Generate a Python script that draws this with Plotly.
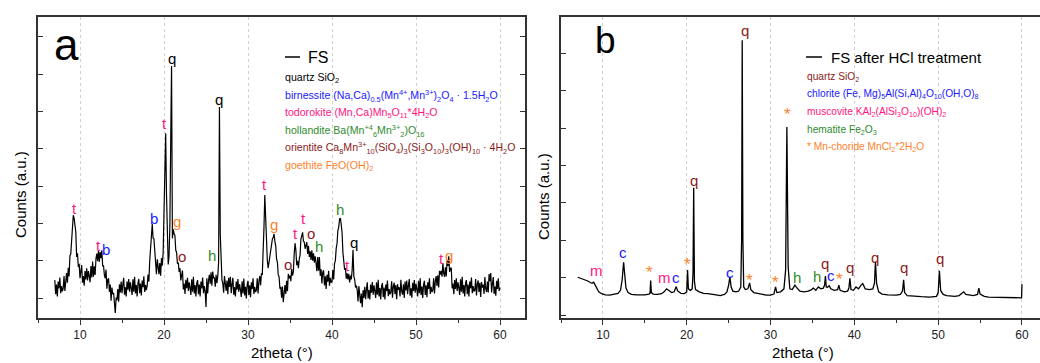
import plotly.graph_objects as go

# ---------------- data: panel a (FS), 2theta grid 7.0 .. 60.0, step 0.1 ----------------
two_theta_start_a = 7.0
two_theta_step_a = 0.1
counts_fs = [
    48, 10, 36, 4, 44, 26, 55, 13, 32, 18,            # 7
    26, 59, 19, 52, 67, 41, 81, 58, 113, 118,         # 8
    154, 165, 222, 214, 190, 177, 110, 120, 83, 92,   # 9
    53, 74, 88, 41, 59, 33, 72, 50, 80, 47,           # 10
    72, 59, 42, 86, 55, 98, 57, 85, 62, 105,          # 11
    119, 99, 127, 97, 123, 107, 128, 85, 87, 62,      # 12
    53, 76, 25, 49, 53, 16, 36, -7, 28, 10,           # 13
    14, -13, -40, 1, -6, 24, -10, 37, 15, 44,         # 14
    13, 37, 54, 9, 29, 4, 44, 22, 51, 17,             # 15
    42, 27, 8, 50, 17, 57, 12, 35, 4, 40,             # 16
    51, 13, 39, 7, 47, 29, 58, 16, 35, 21,            # 17
    34, 63, 44, 100, 152, 165, 198, 161, 159, 114,    # 18
    99, 64, 104, 71, 64, 94, 60, 107, 87, 122,        # 19
    205, 355, 442, 275, 165, 90, 112, 195, 425, 622,  # 20
    160, 184, 172, 168, 128, 122, 92, 95, 70, 80,     # 21
    47, 64, 74, 23, 39, 11, 49, 26, 54, 19,           # 22
    42, 27, 8, 50, 17, 57, 12, 35, 4, 40,             # 23
    48, 10, 36, 4, 44, 26, 55, 13, 32, 18,            # 24
    -24, 53, 12, 47, 62, 38, 69, 33, 71, 53,          # 25
    55, 30, 62, 40, 58, 95, 512, 170, 70, 48,         # 26
    39, 14, 59, 28, 19, 47, 10, 54, 30, 57,           # 27
    13, 37, 54, 9, 29, 4, 44, 22, 51, 17,             # 28
    37, 22, 3, 45, 12, 52, 7, 30, -1, 35,             # 29
    46, 8, 34, 2, 42, 24, 53, 11, 30, 16,             # 30
    21, 53, 12, 45, 59, 34, 66, 62, 115, 188,         # 31
    276, 215, 126, 101, 80, 97, 110, 138, 141, 158,   # 32
    162, 172, 152, 140, 104, 96, 62, 57, 25, 30,      # 33
    1, 31, -11, 21, 35, 11, 46, 18, 65, 53,           # 34
    60, 45, 78, 60, 70, 118, 147, 128, 88, 100,       # 35
    80, 104, 115, 158, 165, 176, 152, 150, 132, 140,  # 36
    150, 118, 140, 110, 125, 102, 128, 100, 120, 95,  # 37
    112, 94, 72, 110, 73, 110, 60, 77, 39, 70,        # 38
    74, 34, 58, 24, 62, 44, 73, 33, 54, 42,           # 39
    43, 75, 50, 92, 100, 133, 146, 181, 190, 212,     # 40
    214, 196, 175, 122, 106, 76, 80, 52, 66, 50,      # 41
    65, 42, 60, 50, 75, 129, 58, 50, 28, 33,          # 42
    22, -9, 32, -2, -14, 12, -25, 21, 0, 30,          # 43
    -3, 23, 42, -1, 21, -4, 36, 14, 43, 9,            # 44
    34, 19, 0, 42, 9, 49, 4, 27, -4, 32,              # 45
    40, 2, 28, -4, 36, 18, 47, 5, 24, 10,             # 46
    15, 45, 1, 31, 41, 10, 35, -3, 37, 22,            # 47
    29, 4, 49, 18, 9, 37, 0, 44, 20, 47,              # 48
    10, 34, 51, 6, 26, 1, 41, 19, 48, 14,             # 49
    38, 23, 4, 46, 13, 53, 8, 31, 0, 36,              # 50
    46, 8, 34, 2, 42, 24, 53, 11, 30, 16,             # 51
    21, 53, 12, 45, 59, 32, 61, 28, 73, 63,           # 52
    73, 57, 94, 66, 57, 82, 58, 100, 86, 112,         # 53
    70, 79, 81, 26, 39, 10, 48, 24, 53, 19,           # 54
    42, 27, 8, 50, 17, 57, 12, 35, 4, 40,             # 55
    48, 10, 36, 4, 44, 26, 55, 13, 32, 18,            # 56
    21, 51, 7, 37, 47, 16, 41, 3, 43, 28,             # 57
    36, 11, 56, 25, 16, 44, 15, 64, 45, 67,           # 58
    15, 39, 56, 11, 31, 6, 46, 24, 53, 19,            # 59
    28,                                               # 60
]
two_theta_fs = [round(two_theta_start_a + i * two_theta_step_a, 1) for i in range(len(counts_fs))]

# ---------------- data: panel b (FS after HCl treatment) ----------------
two_theta_hcl = [
    7.0, 7.3, 7.6, 7.9, 8.2, 8.5, 8.7, 8.9, 9.05, 9.25, 9.5, 9.85, 10.3, 10.8, 11.3, 11.8,
    12.1, 12.3, 12.47, 12.6, 12.75, 13.0, 13.4, 14.0, 14.5, 15.0, 15.5, 15.62, 15.7, 15.78,
    16.0, 16.5, 17.0, 17.3, 17.6, 17.9, 18.2, 18.5, 18.75, 18.9, 19.3, 19.7, 20.0, 20.1,
    20.2, 20.45, 20.65, 20.75, 20.83, 20.92, 21.05, 21.5, 22.0, 22.5, 23.0, 23.5, 24.0,
    24.5, 24.8, 25.0, 25.15, 25.3, 25.5, 25.9, 26.2, 26.45, 26.55, 26.62, 26.7, 26.8, 27.0,
    27.3, 27.5, 27.65, 28.0, 28.5, 29.0, 29.5, 30.0, 30.4, 30.6, 30.75, 31.2, 31.6, 31.8,
    31.95, 32.1, 32.3, 32.6, 32.9, 33.1, 33.5, 34.0, 34.5, 34.9, 35.1, 35.4, 35.7, 36.0,
    36.3, 36.45, 36.55, 36.65, 36.8, 37.0, 37.2, 37.6, 38.0, 38.15, 38.3, 38.8, 39.2,
    39.35, 39.47, 39.6, 39.9, 40.2, 40.5, 40.8, 41.0, 41.3, 41.8, 42.2, 42.4, 42.52, 42.65,
    42.9, 43.3, 44.0, 44.5, 45.0, 45.5, 45.75, 45.88, 46.0, 46.3, 47.0, 48.0, 49.0, 49.8,
    50.0, 50.15, 50.3, 50.6, 51.0, 51.5, 52.0, 52.5, 52.9, 53.05, 53.3, 53.7, 54.2, 54.7,
    54.85, 55.0, 55.5, 56.0, 57.0, 58.0, 59.0, 59.8, 59.95, 60.0,
]
counts_hcl = [
    101, 99, 97, 94, 91, 87, 85, 88, 82, 70, 62, 57, 54, 53, 55, 58,
    66, 95, 141, 110, 72, 60, 55, 54, 53, 54, 56, 58, 92, 60,
    56, 55, 57, 62, 70, 66, 60, 62, 76, 65, 58, 57, 62, 120,
    70, 66, 70, 110, 340, 90, 68, 62, 58, 57, 56, 54, 52,
    55, 62, 80, 102, 75, 64, 62, 64, 75, 200, 735, 200, 75, 68,
    70, 86, 68, 60, 57, 55, 53, 53, 56, 75, 60, 62, 70, 120,
    503, 130, 70, 68, 80, 74, 64, 62, 64, 68, 72, 66, 75, 70,
    72, 80, 104, 75, 74, 78, 70, 66, 68, 80, 66, 62, 64,
    72, 98, 68, 66, 75, 70, 80, 84, 70, 68, 70, 85, 143, 85,
    62, 56, 54, 53, 53, 55, 65, 94, 60, 52, 50, 49, 48, 50,
    60, 118, 65, 55, 52, 50, 50, 52, 58, 62, 55, 53, 52, 55,
    72, 56, 50, 48, 47, 46, 45, 45, 46, 82,
]

# ---------------- peak labels ----------------
PINK, BLUE, GREEN, MAROON, ORANGE, BLACK = "#ff1480", "#1a1aff", "#2e8b2e", "#8b1a1a", "#ff7f2a", "#000000"

labels_a_x = [9.3, 12.18, 13.05, 18.85, 20.04, 20.9, 21.6, 22.2, 25.7, 26.6, 32.0, 33.1, 34.8,
              35.6, 36.6, 37.5, 38.4, 41.0, 41.9, 42.65, 53.06, 53.9]
labels_a_y = [241, 142, 129, 214, 469, 641, 204, 110, 113, 531, 303, 196, 91,
              174, 214, 172, 139, 236, 88, 150, 105, 115]
labels_a_text = ["t", "t", "b", "b", "t", "q", "g", "o", "h", "q", "t", "g", "o",
                 "t", "t", "o", "h", "h", "t", "q", "t", "g"]
labels_a_color = [PINK, PINK, BLUE, BLUE, PINK, BLACK, ORANGE, MAROON, GREEN, BLACK, PINK, ORANGE, MAROON,
                  PINK, PINK, MAROON, GREEN, GREEN, PINK, BLACK, PINK, ORANGE]

labels_b_x = [9.25, 12.4, 15.6, 17.4, 18.75, 20.06, 20.85, 25.15, 26.95, 27.5, 30.6, 32.0, 33.1,
              35.6, 36.5, 37.2, 38.2, 39.5, 42.5, 45.9, 50.2]
labels_b_y = [120, 168, 115, 99, 99, 134, 361, 115, 762, 91, 88, 535, 99,
              104, 139, 107, 96, 126, 155, 126, 152]
labels_b_text = ["m", "c", "*", "m", "c", "*", "q", "c", "q", "*", "*", "*", "h",
                 "h", "q", "c", "*", "q", "q", "q", "q"]
labels_b_color = [PINK, BLUE, ORANGE, PINK, BLUE, ORANGE, MAROON, BLUE, MAROON, ORANGE, ORANGE, ORANGE, GREEN,
                  GREEN, MAROON, BLUE, ORANGE, MAROON, MAROON, MAROON, MAROON]

legend_a = [
    ("quartz SiO<sub>2</sub>", BLACK),
    ("birnessite (Na,Ca)<sub>0.5</sub>(Mn<sup>4+</sup>,Mn<sup>3+</sup>)<sub>2</sub>O<sub>4</sub> · 1.5H<sub>2</sub>O", BLUE),
    ("todorokite (Mn,Ca)Mn<sub>5</sub>O<sub>11</sub>*4H<sub>2</sub>O", PINK),
    ("hollandite Ba(Mn<sup>+4</sup><sub>6</sub>Mn<sup>3+</sup><sub>2</sub>)O<sub>16</sub>", GREEN),
    ("orientite Ca<sub>8</sub>Mn<sup>3+</sup><sub>10</sub>(SiO<sub>4</sub>)<sub>3</sub>(Si<sub>3</sub>O<sub>10</sub>)<sub>3</sub>(OH)<sub>10</sub> · 4H<sub>2</sub>O", MAROON),
    ("goethite FeO(OH)<sub>2</sub>", ORANGE),
]
legend_b = [
    ("quartz SiO<sub>2</sub>", MAROON),
    ("chlorite (Fe, Mg)<sub>5</sub>Al(Si,Al)<sub>4</sub>O<sub>10</sub>(OH,O)<sub>8</sub>", BLUE),
    ("muscovite KAl<sub>2</sub>(AlSi<sub>3</sub>O<sub>10</sub>)(OH)<sub>2</sub>", PINK),
    ("hematite Fe<sub>2</sub>O<sub>3</sub>", GREEN),
    ("* Mn-choride MnCl<sub>2</sub>*2H<sub>2</sub>O", ORANGE),
]

# ---------------- figure ----------------
W, H = 1040, 363
FONT = "Liberation Sans, Arial, sans-serif"
AXC = "#333333"

def fx(px):
    return px / W

def fy(py):
    return 1 - py / H

fig = go.Figure()
fig.add_trace(go.Scatter(x=two_theta_fs, y=counts_fs, mode="lines",
                         line=dict(color="black", width=1.2), xaxis="x", yaxis="y",
                         name="FS", showlegend=False))
fig.add_trace(go.Scatter(x=two_theta_hcl, y=counts_hcl, mode="lines",
                         line=dict(color="black", width=1.3), xaxis="x2", yaxis="y2",
                         name="FS after HCl treatment", showlegend=False))

ydom = [fy(318), fy(17)]
dom_a = [fx(38), fx(525.2)]
dom_b = [fx(561), 1.0]
range_a = [5, 63]
range_b = [5, 62.15]

def bottom_axis(dom, rng, anchor):
    return dict(domain=dom, range=rng, anchor=anchor, tickmode="linear", tick0=0, dtick=10,
                ticks="outside", ticklen=5, tickwidth=1.2, tickcolor=AXC,
                minor=dict(tick0=0, dtick=5, ticks="outside", ticklen=3, tickwidth=1, tickcolor=AXC, showgrid=False),
                showline=True, linecolor=AXC, linewidth=1.5, mirror=True,
                showgrid=True, gridcolor="#d0d0d0", griddash="dot", gridwidth=1,
                zeroline=False, tickfont=dict(size=12, color="#222", family=FONT))

def top_axis(over, rng, anchor):
    return dict(overlaying=over, side="top", range=rng, anchor=anchor, tickmode="linear", tick0=0, dtick=10,
                ticks="inside", ticklen=5, tickwidth=1.2, tickcolor=AXC,
                minor=dict(tick0=0, dtick=5, ticks="inside", ticklen=3, tickwidth=1, tickcolor=AXC, showgrid=False),
                showline=False, showgrid=False, zeroline=False, showticklabels=False)

def left_axis(rng, anchor, mirror):
    return dict(domain=ydom, range=rng, anchor=anchor, tickmode="linear", tick0=0, dtick=100,
                ticks="inside", ticklen=5, tickwidth=1.2, tickcolor=AXC,
                showline=True, linecolor=AXC, linewidth=1.5, mirror=mirror,
                showgrid=False, zeroline=False, showticklabels=False)

fig.update_layout(
    width=W, height=H, margin=dict(l=0, r=0, t=0, b=0),
    paper_bgcolor="white", plot_bgcolor="white",
    font=dict(family=FONT, color="black"),
    xaxis=bottom_axis(dom_a, range_a, "y"),
    xaxis2=bottom_axis(dom_b, range_b, "y2"),
    xaxis3=top_axis("x", range_a, "y"),
    xaxis4=top_axis("x2", range_b, "y2"),
    yaxis=left_axis([-53.6, 753.4], "x", "ticks"),
    yaxis2=left_axis([-8, 797], "x2", False),
)

ann = []
for x, y, t, c in zip(labels_a_x, labels_a_y, labels_a_text, labels_a_color):
    ann.append(dict(x=x, y=y, xref="x", yref="y", text=t, showarrow=False,
                    font=dict(size=15, color=c, family=FONT), xanchor="center", yanchor="middle"))
for x, y, t, c in zip(labels_b_x, labels_b_y, labels_b_text, labels_b_color):
    ann.append(dict(x=x, y=y, xref="x2", yref="y2", text=t, showarrow=False,
                    font=dict(size=15 if t != "*" else 17, color=c, family=FONT), xanchor="center", yanchor="middle"))

# legends
def legend_block(line_x0, line_x1, head_x, head_y, head_text, head_size, rows_x, rows_y, rows, row_size):
    fig.add_shape(type="line", xref="paper", yref="paper", x0=fx(line_x0), x1=fx(line_x1),
                  y0=fy(head_y), y1=fy(head_y), line=dict(color="black", width=1.5))
    ann.append(dict(x=fx(head_x), y=fy(head_y), xref="paper", yref="paper", text=head_text, showarrow=False,
                    font=dict(size=head_size, color="black", family=FONT), xanchor="left", yanchor="middle"))
    for (t, c), ry in zip(rows, rows_y):
        ann.append(dict(x=fx(rows_x), y=fy(ry), xref="paper", yref="paper", text=t, showarrow=False,
                        font=dict(size=row_size, color=c, family=FONT), xanchor="left", yanchor="middle"))

legend_block(285, 300, 306, 57, "FS", 16, 283, [78, 95.5, 113, 130.5, 148, 166], legend_a, 10.6)
legend_block(806, 822, 829, 57, "FS after HCl treatment", 15, 805, [77.5, 95, 112.5, 130, 147.5], legend_b, 10.2)

# panel letters
ann.append(dict(x=fx(66), y=fy(44), xref="paper", yref="paper", text="a", showarrow=False,
                font=dict(size=44, color="black", family=FONT), xanchor="center", yanchor="middle"))
ann.append(dict(x=fx(605), y=fy(40), xref="paper", yref="paper", text="b", showarrow=False,
                font=dict(size=37, color="black", family=FONT), xanchor="center", yanchor="middle"))

# axis titles
ann.append(dict(x=fx(20), y=fy(195), xref="paper", yref="paper", text="Counts (a.u.)", showarrow=False,
                textangle=-90, font=dict(size=15, color="black", family=FONT), xanchor="center", yanchor="middle"))
ann.append(dict(x=fx(543), y=fy(197), xref="paper", yref="paper", text="Counts (a.u.)", showarrow=False,
                textangle=-90, font=dict(size=15, color="black", family=FONT), xanchor="center", yanchor="middle"))
ann.append(dict(x=fx(282), y=fy(352), xref="paper", yref="paper", text="2theta (°)", showarrow=False,
                font=dict(size=15, color="black", family=FONT), xanchor="center", yanchor="middle"))
ann.append(dict(x=fx(803), y=fy(352), xref="paper", yref="paper", text="2theta (°)", showarrow=False,
                font=dict(size=15, color="black", family=FONT), xanchor="center", yanchor="middle"))

fig.update_layout(annotations=ann)
fig.write_html("out.html", config={"displayModeBar": False},
               post_script="document.body.style.margin='0';document.body.style.padding='0';document.body.style.overflow='hidden';")
